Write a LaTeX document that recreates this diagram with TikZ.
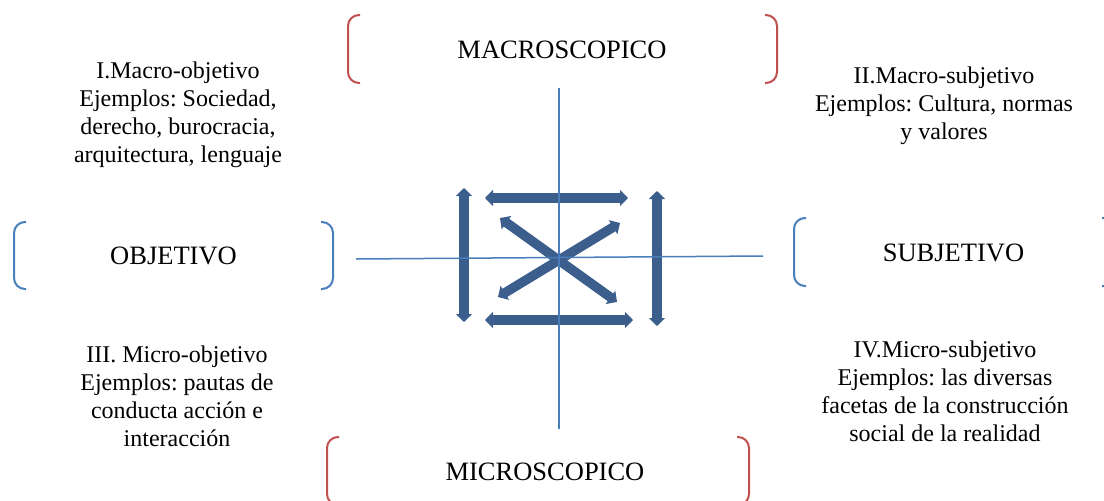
\documentclass[tikz,border=0pt]{standalone}
\usepackage{fontspec}
\setmainfont{Liberation Serif}
\frenchspacing
\usetikzlibrary{arrows.meta}
\definecolor{axisblue}{HTML}{4A7EBB}
\definecolor{arrowblue}{HTML}{3B5E8C}
\definecolor{bracketred}{HTML}{C0504D}
\tikzset{
  heading/.style={inner sep=0pt, font=\fontsize{26.5}{30}\selectfont},
  example/.style={inner sep=0pt, align=center, font=\fontsize{24}{28}\selectfont},
  axisline/.style={draw=axisblue, line width=1.5pt},
  bigarrow/.style={draw=arrowblue, line width=9.5pt,
    {Triangle[width=16pt,length=8pt]}-{Triangle[width=16pt,length=8pt]}},
  bracketline/.style={line width=2pt, rounded corners=11pt},
}
% a pair of facing brackets: left x, right x, top y, bottom y, colour
\newcommand{\bracketpair}[5]{%
  \draw[bracketline,#5] (#1+12,#3) -- (#1,#3) -- (#1,#4) -- (#1+12,#4);
  \draw[bracketline,#5] (#2-12,#3) -- (#2,#3) -- (#2,#4) -- (#2-12,#4);
}
\begin{document}
\begin{tikzpicture}[x=1pt,y=-1pt]
\useasboundingbox (0,0) rectangle (1104,501);

% headings with their brackets
\node[heading] (macro) at (562,50) {MACROSCOPICO};
\bracketpair{348}{777}{15}{83}{bracketred}
\node[heading] (micro) at (545,472) {MICROSCOPICO};
\bracketpair{327}{749}{437}{505}{bracketred}
\node[heading] (obj) at (173.5,256) {OBJETIVO};
\bracketpair{14}{333}{222}{289}{axisblue}
\node[heading] (subj) at (953.5,252.5) {SUBJETIVO};
\bracketpair{794}{1114}{218}{286}{axisblue}

% quadrant descriptions
\node[example] (q1) at (178,115) {I.Macro-objetivo\\Ejemplos: Sociedad,\\derecho, burocracia,\\arquitectura, lenguaje};
\node[example] (q2) at (944,106) {II.Macro-subjetivo\\Ejemplos: Cultura, normas\\y valores};
\node[example] (q3) at (177,396) {III. Micro-objetivo\\Ejemplos: pautas de\\conducta acción e\\interacción};
\node[example] (q4) at (945,391) {IV.Micro-subjetivo\\Ejemplos: las diversas\\facetas de la construcción\\social de la realidad};

% ends of the double arrows
\coordinate (lt) at (464,188);  \coordinate (lb) at (464,322);
\coordinate (tl) at (485,198);  \coordinate (tr) at (628,198);
\coordinate (rt) at (657,191);  \coordinate (rb) at (657,326);
\coordinate (bl) at (485,320);  \coordinate (br) at (633,320);
\coordinate (d1a) at (500,218); \coordinate (d1b) at (617,302);
\coordinate (d2a) at (498,297); \coordinate (d2b) at (620,223);

\draw[bigarrow] (lt) -- (lb);
\draw[bigarrow] (tl) -- (tr);
\draw[bigarrow] (rt) -- (rb);
\draw[bigarrow] (bl) -- (br);
\draw[bigarrow] (d1a) -- (d1b);
\draw[bigarrow] (d2a) -- (d2b);

% axes
\coordinate (axtop) at (559,88);  \coordinate (axbot) at (559,429);
\coordinate (axleft) at (356,259); \coordinate (axright) at (763,256);
\draw[axisline] (axtop) -- (axbot);
\draw[axisline] (axleft) -- (axright);
\end{tikzpicture}
\end{document}
